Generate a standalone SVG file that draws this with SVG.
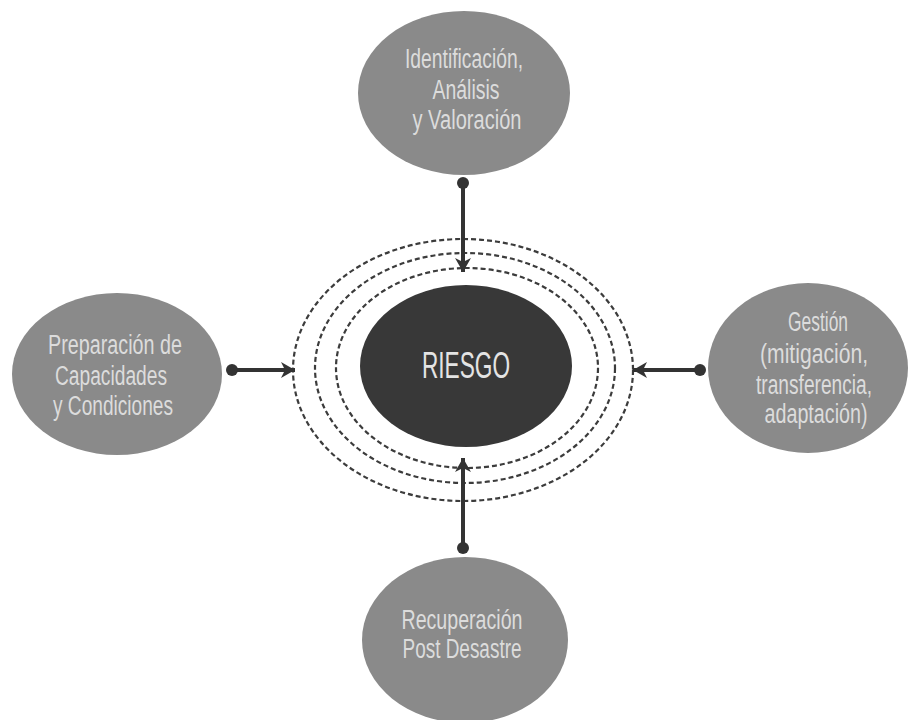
<svg xmlns="http://www.w3.org/2000/svg" width="911" height="720" viewBox="0 0 911 720">
<defs>
<style>
.node{fill:#8a8a8a;}
.core{fill:#383838;}
.lbl{font-family:"Liberation Sans","DejaVu Sans",sans-serif;font-size:27px;fill:#dcdcdc;text-anchor:middle;}
.core-lbl{font-family:"Liberation Sans","DejaVu Sans",sans-serif;font-size:36px;fill:#e4e4e4;text-anchor:middle;}
.ring{fill:none;stroke:#3c3c3c;stroke-width:2.2;stroke-dasharray:5 3;}
.conn{fill:none;stroke:#333;stroke-width:4;marker-start:url(#dot);marker-end:url(#arrow);}
</style>
<marker id="dot" markerUnits="userSpaceOnUse" markerWidth="14" markerHeight="14" refX="7" refY="7" orient="auto">
<circle cx="7" cy="7" r="6" fill="#333"/>
</marker>
<marker id="arrow" markerUnits="userSpaceOnUse" markerWidth="16" markerHeight="18" refX="14" refY="9" orient="auto">
<path d="M0,1 L14,9 L0,17 L4,9 Z" fill="#333"/>
</marker>
</defs>
<rect width="911" height="720" fill="#ffffff"/>

<g id="rings">
<ellipse class="ring" cx="463" cy="370" rx="170" ry="131"/>
<ellipse class="ring" cx="465" cy="368" rx="150" ry="115"/>
<ellipse class="ring" cx="467" cy="368" rx="131" ry="100"/>
</g>

<g id="riesgo">
<ellipse class="core" cx="466" cy="366" rx="106" ry="81"/>
<text class="core-lbl" x="466" y="378" textLength="88" lengthAdjust="spacingAndGlyphs">RIESGO</text>
</g>

<g id="identificacion">
<ellipse class="node" cx="464" cy="93" rx="106" ry="82"/>
<text class="lbl" x="464" y="68" textLength="118" lengthAdjust="spacingAndGlyphs">Identificación,</text>
<text class="lbl" x="466" y="99" textLength="67" lengthAdjust="spacingAndGlyphs">Análisis</text>
<text class="lbl" x="467" y="129" textLength="109" lengthAdjust="spacingAndGlyphs">y Valoración</text>
</g>

<g id="preparacion">
<ellipse class="node" cx="117" cy="374" rx="105" ry="81"/>
<text class="lbl" x="115" y="354" textLength="134" lengthAdjust="spacingAndGlyphs">Preparación de</text>
<text class="lbl" x="111" y="385" textLength="112" lengthAdjust="spacingAndGlyphs">Capacidades</text>
<text class="lbl" x="113" y="415" textLength="120" lengthAdjust="spacingAndGlyphs">y Condiciones</text>
</g>

<g id="gestion">
<ellipse class="node" cx="808" cy="368" rx="100" ry="85"/>
<text class="lbl" x="818" y="331" textLength="60" lengthAdjust="spacingAndGlyphs">Gestión</text>
<text class="lbl" x="814" y="363" textLength="108" lengthAdjust="spacingAndGlyphs">(mitigación,</text>
<text class="lbl" x="814" y="394" textLength="116" lengthAdjust="spacingAndGlyphs">transferencia,</text>
<text class="lbl" x="816" y="423" textLength="103" lengthAdjust="spacingAndGlyphs">adaptación)</text>
</g>

<g id="recuperacion">
<ellipse class="node" cx="465" cy="640" rx="103" ry="83"/>
<text class="lbl" x="462" y="629" textLength="121" lengthAdjust="spacingAndGlyphs">Recuperación</text>
<text class="lbl" x="462" y="658" textLength="119" lengthAdjust="spacingAndGlyphs">Post Desastre</text>
</g>

<g id="connectors">
<line class="conn" x1="463" y1="183" x2="463" y2="272"/>
<line class="conn" x1="463" y1="548" x2="463" y2="458"/>
<line class="conn" x1="232" y1="370" x2="295" y2="370"/>
<line class="conn" x1="700" y1="370" x2="633" y2="370"/>
</g>
</svg>
